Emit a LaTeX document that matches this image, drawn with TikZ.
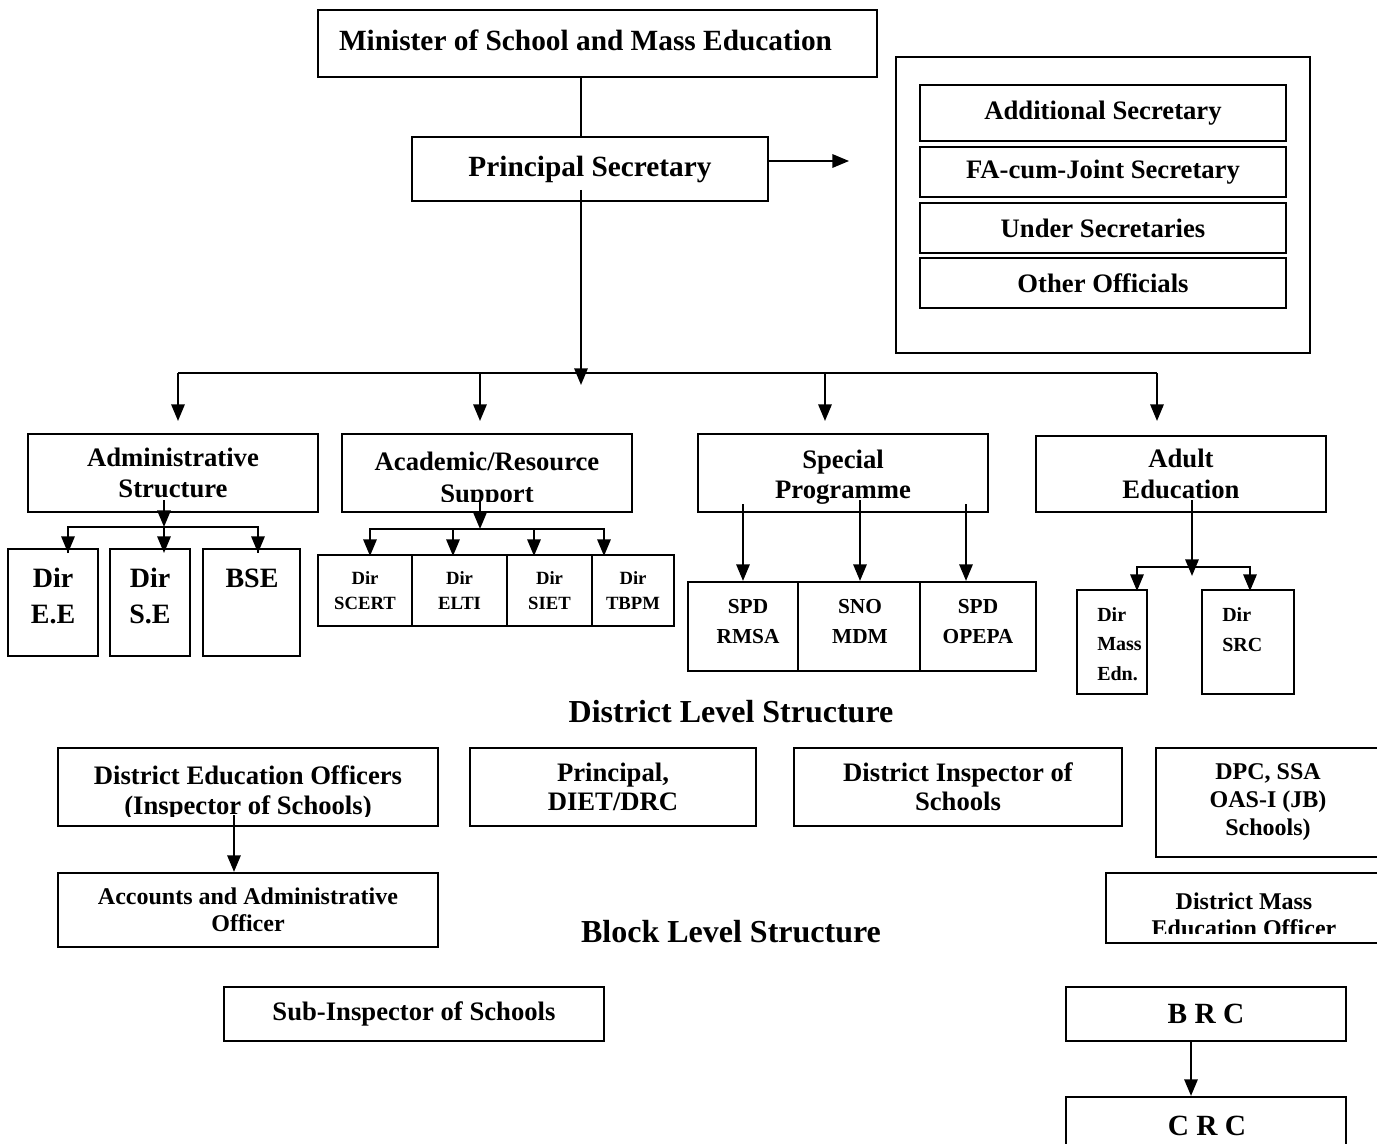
\documentclass[tikz,border=0pt]{standalone}
\usepackage{fontspec}
\setmainfont{Liberation Serif}
\usetikzlibrary{arrows.meta,positioning}

\tikzset{
    box/.style={draw,line width=1.6pt,inner sep=0pt,align=center},
    sz/.style 2 args={minimum width=#1*0.75pt,minimum height=#2*0.75pt},
    fs/.style 2 args={font=\bfseries\fontsize{#1}{#2}\selectfont},
    txt/.style={inner sep=0pt,align=center},
    ln/.style={line width=1.6pt},
    arr/.style={line width=1.6pt,-{Triangle[length=12.5pt,width=10pt]}}
}

\begin{document}
\begin{tikzpicture}[x=0.75pt,y=0.75pt,yscale=-1,xscale=1]
        \useasboundingbox (0,0) rectangle (1377,1144);

        % Top
        \node [box,sz={559}{67}] (min) at (597.5,43.5) {};
        \node [txt,fs={22}{26}] (minT) at (585.5,40) {Minister of School and Mass Education};
        \node [box,sz={356}{64},fs={22}{26}] (ps) at (590,169) {Principal Secretary};

        % Secretariat
        \node [box,sz={414}{296}] (sec) at (1103,205) {};
        \node [box,sz={366}{56},fs={20}{23}] (addl) at (1103,113) {Additional Secretary};
        \node [box,sz={366}{50},fs={20}{23}] (fa) at (1103,172) {FA-cum-Joint Secretary};
        \node [box,sz={366}{50},fs={20}{23}] (under) at (1103,228) {Under Secretaries};
        \node [box,sz={366}{50},fs={20}{23}] (other) at (1103,283) {Other Officials};

        % Wings
        \node [box,sz={290}{78},fs={20}{23}] (adm) at (173,473) {Administrative\\Structure};
        \node [box,sz={290}{78}] (acad) at (487,473) {};
        \node [box,sz={290}{78}] (spl) at (843,473) {};
        \node [box,sz={290}{76},fs={20}{23}] (adult) at (1181,474) {Adult\\Education};
        \begin{scope}
            \clip (acad.north west) rectangle ([yshift=-9pt]acad.south east);
            \node [txt,fs={20}{24.5}] (acadT) at (487,480) {Academic/Resource\\Support};
        \end{scope}
        \begin{scope}
            \clip (spl.north west) rectangle ([yshift=-7pt]spl.south east);
            \node [txt,fs={20}{22.5}] (splT) at (843,477) {Special\\Programme};
        \end{scope}

        % Directorates
        \node [box,sz={90}{107}] (ee) at (53,602.5) {};
        \node [box,sz={80}{107}] (se) at (150,602.5) {};
        \node [box,sz={97}{107}] (bse) at (251.5,602.5) {};
        \node [txt,fs={21}{27}] (eeT) at (53,596) {Dir\\E.E};
        \node [txt,fs={21}{27}] (seT) at (150,596) {Dir\\S.E};
        \node [txt,fs={21}{27}] (bseT) at (252,578) {BSE};

        \node [box,sz={94}{71},fs={14}{19}] (scert) at (365,590.5) {Dir\\SCERT};
        \node [box,sz={95}{71},fs={14}{19}] (elti) at (459.5,590.5) {Dir\\ELTI};
        \node [box,sz={85}{71},fs={14}{19}] (siet) at (549.5,590.5) {Dir\\SIET};
        \node [box,sz={82}{71},fs={14}{19}] (tbpm) at (633,590.5) {Dir\\TBPM};

        \node [box,sz={110}{89}] (rmsa) at (743,626.5) {};
        \node [box,sz={122}{89}] (mdm) at (859,626.5) {};
        \node [box,sz={116}{89}] (opepa) at (978,626.5) {};
        \node [txt,fs={16}{22}] (rmsaT) at (748,621.5) {SPD\\RMSA};
        \node [txt,fs={16}{22}] (mdmT) at (860,621.5) {SNO\\MDM};
        \node [txt,fs={16}{22}] (opepaT) at (978,621.5) {SPD\\OPEPA};

        \node [box,sz={70}{104}] (mass) at (1112,642) {};
        \node [box,sz={92}{104}] (src) at (1248,642) {};
        \node [txt,fs={15}{22},anchor=west,align=left] (massT) at (1097,644) {Dir\\Mass\\Edn.};
        \node [txt,fs={15}{22},anchor=west,align=left] (srcT) at (1222,629.5) {Dir\\SRC};

        % District level
        \node [txt,fs={24}{28}] (dist) at (731,712) {District Level Structure};
        \node [box,sz={380}{78}] (deo) at (248,787) {};
        \begin{scope}
            \clip (deo.north west) rectangle ([yshift=-8pt]deo.south east);
            \node [txt,fs={20}{22}] (deoT) at (248,793) {District Education Officers\\(Inspector of Schools)};
        \end{scope}
        \node [box,sz={286}{78},fs={20}{22}] (diet) at (613,787) {Principal,\\DIET/DRC};
        \node [box,sz={328}{78},fs={20}{22}] (dis) at (958,787) {District Inspector of\\Schools};
        \node [box,sz={224}{109},fs={18}{21}] (dpc) at (1268,802.5) {DPC, SSA\\OAS-I (JB)\\Schools)};
        \node [box,sz={380}{74},fs={18}{20.5}] (aao) at (248,910) {Accounts and Administrative\\Officer};
        \node [box,sz={274}{70}] (dmeo) at (1243,908) {};
        \begin{scope}
            \clip (dmeo.north west) rectangle ([yshift=-8pt]dmeo.south east);
            \node [txt,fs={18}{20.5}] (dmeoT) at (1244,915) {District Mass\\Education Officer};
        \end{scope}

        % Block level
        \node [txt,fs={24}{28}] (block) at (731,932) {Block Level Structure};
        \node [box,sz={380}{54},fs={20}{23}] (sis) at (414,1014) {Sub-Inspector of Schools};
        \node [box,sz={280}{54},fs={22}{26}] (brc) at (1206,1014) {B R C};
        \node [box,sz={280}{58}] (crc) at (1206,1126) {};
        \node [txt,fs={22}{26}] (crcT) at (1207,1126) {C R C};

        % Connectors, top
        \coordinate (trunk) at (581,190);
        \coordinate (hub) at (581,385);
        \draw [ln] (trunk |- min.south) -- (trunk |- ps.north);
        \draw [arr] (trunk) -- (hub);
        \draw [arr] ([yshift=-6pt]ps.east) -- ++(80,0);
        \coordinate (b1) at (178,373);
        \coordinate (b2) at (480,373);
        \coordinate (b3) at (825,373);
        \coordinate (b4) at (1157,373);
        \draw [ln] (b1) -- (b4);
        \foreach \b in {b1,b2,b3,b4}
            \draw [arr] (\b) -- ++(0,48);

        % Administrative
        \coordinate (a0) at (164,500);
        \coordinate (abus) at (164,527);
        \coordinate (a1) at (68,553);
        \coordinate (a3) at (258,553);
        \draw [arr] (a0) -- (abus);
        \draw [ln] (a1) |- (abus) -| (a3);
        \draw [arr] (a1 |- abus) -- (a1);
        \draw [arr] (a3 |- abus) -- (a3);
        \draw [arr] (abus) -- (abus |- a1);

        % Academic
        \coordinate (r0) at (480,500);
        \coordinate (rbus) at (480,529);
        \coordinate (r1) at (370,556);
        \coordinate (r2) at (453,556);
        \coordinate (r3) at (534,556);
        \coordinate (r4) at (604,556);
        \draw [arr] (r0) -- (rbus);
        \draw [ln] (r1) |- (rbus) -| (r4);
        \foreach \r in {r1,r2,r3,r4}
            \draw [arr] (\r |- rbus) -- (\r);

        % Special
        \coordinate (s1) at (743,504);
        \coordinate (s2) at (860,500);
        \coordinate (s3) at (966,504);
        \draw [arr] (s1) -- (s1 |- rmsa.north);
        \draw [arr] (s2) -- (s2 |- mdm.north);
        \draw [arr] (s3) -- (s3 |- opepa.north);

        % Adult
        \coordinate (d0) at (1192,500);
        \coordinate (dbus) at (1192,567);
        \coordinate (d1) at (1137,591);
        \coordinate (d2) at (1250,591);
        \draw [ln] (d1) |- (dbus) -| (d2);
        \draw [arr] (d1 |- dbus) -- (d1);
        \draw [arr] (d2 |- dbus) -- (d2);
        \draw [arr] (d0) -- ++(0,76);

        % District and block
        \coordinate (e0) at (234,815);
        \draw [arr] (e0) -- (e0 |- aao.north);
        \coordinate (bc) at (1191,0);
        \draw [arr] (brc.south -| bc) -- (crc.north -| bc);

    \end{tikzpicture}
\end{document}
